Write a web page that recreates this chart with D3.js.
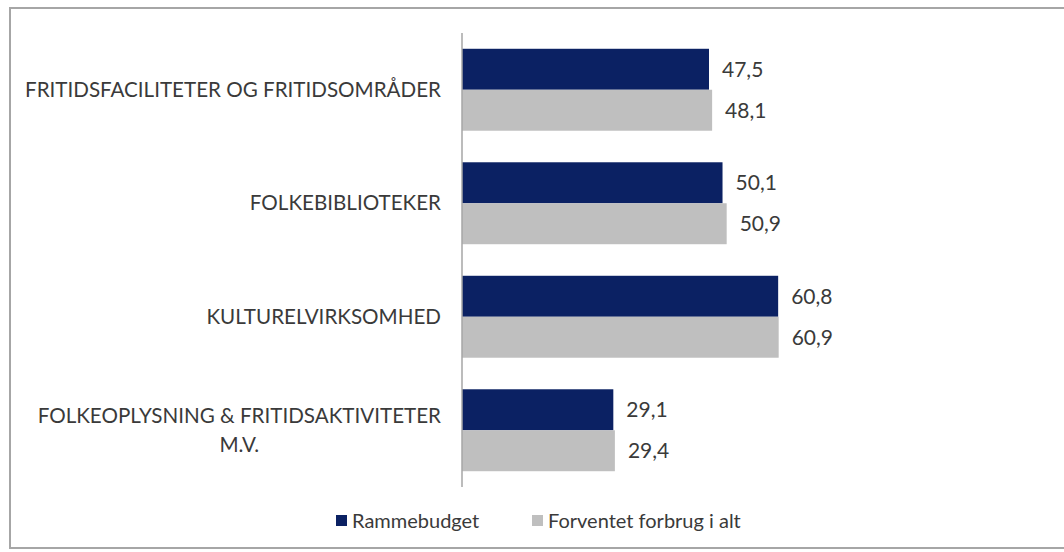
<!DOCTYPE html>
<html lang="da">
<head>
    <meta charset="UTF-8">
    <title>Rammebudget og forventet forbrug</title>
    <script src="https://d3js.org/d3.v7.min.js"></script>
    <style>
        body {
            margin: 0;
            background: #fff;
            font-family: Lato, "Open Sans", sans-serif;
        }
        svg text {
            fill: #3a3a3a;
        }
    </style>
</head>
<body>
    <div id="chart"></div>
    <script>
        const categories = [
            "FRITIDSFACILITETER OG FRITIDSOMRÅDER",
            "FOLKEBIBLIOTEKER",
            "KULTURELVIRKSOMHED",
            "FOLKEOPLYSNING & FRITIDSAKTIVITETER M.V."
        ];
        const seriesNames = ["Rammebudget", "Forventet forbrug i alt"];
        const rammebudget = [47.5, 50.1, 60.8, 29.1];
        const forbrug = [48.1, 50.9, 60.9, 29.4];
        const colors = ["#0b2163", "#bfbfbf"];

        const W = 1064, H = 552;
        const fmt = v => d3.format(".1f")(v).replace(".", ",");

        const svg = d3.select("#chart").append("svg")
            .attr("width", W)
            .attr("height", H);

        // frame around the chart
        svg.append("rect")
            .attr("x", 10).attr("y", 8)
            .attr("width", W + 20).attr("height", 540)
            .attr("fill", "none")
            .attr("stroke", "#a6a6a6")
            .attr("stroke-width", 2);

        const x = d3.scaleLinear().domain([0, 115]).range([462, 1060]);
        const y = d3.scaleBand().domain(categories).range([33, 487])
            .paddingInner(0.278).paddingOuter(0.139);
        const ySub = d3.scaleBand().domain([0, 1]).range([0, y.bandwidth()]);

        const rows = categories.map((c, i) => ({
            cat: c,
            values: [rammebudget[i], forbrug[i]]
        }));

        const groups = svg.selectAll(".grp").data(rows).enter()
            .append("g")
            .attr("transform", d => `translate(0,${y(d.cat)})`);

        groups.selectAll("rect").data(d => d.values).enter()
            .append("rect")
            .attr("x", x(0))
            .attr("y", (d, j) => ySub(j))
            .attr("width", d => x(d) - x(0))
            .attr("height", ySub.bandwidth())
            .attr("fill", (d, j) => colors[j]);

        groups.selectAll(".val").data(d => d.values).enter()
            .append("text")
            .attr("class", "val")
            .attr("x", d => x(d) + 13)
            .attr("y", (d, j) => ySub(j) + ySub.bandwidth() / 2)
            .attr("dy", "0.35em")
            .style("font-size", "21px")
            .text(fmt);

        // category axis line
        svg.append("line")
            .attr("x1", x(0)).attr("x2", x(0))
            .attr("y1", 33).attr("y2", 487)
            .attr("stroke", "#a6a6a6")
            .attr("stroke-width", 1.5);

        // category labels, wrapped and centred like Excel does
        const maxW = 430;
        categories.forEach(c => {
            const t = svg.append("text").style("font-size", "20.6px");
            const words = c.split(" ");
            const lines = [];
            let cur = "";
            words.forEach(w => {
                const test = cur ? cur + " " + w : w;
                t.text(test);
                if (t.node().getComputedTextLength() > maxW && cur) {
                    lines.push(cur);
                    cur = w;
                } else {
                    cur = test;
                }
            });
            lines.push(cur);
            let widest = 0;
            lines.forEach(l => {
                t.text(l);
                widest = Math.max(widest, t.node().getComputedTextLength());
            });
            t.text(null);
            const cx = 441 - widest / 2;
            const lh = 29;
            const cy = y(c) + y.bandwidth() / 2;
            t.attr("text-anchor", "middle");
            lines.forEach((l, k) => {
                t.append("tspan")
                    .attr("x", cx)
                    .attr("y", cy + (k - (lines.length - 1) / 2) * lh)
                    .attr("dy", "0.35em")
                    .text(l);
            });
        });

        // legend
        const legend = svg.append("g").attr("transform", "translate(336,521)");
        const legX = [0, 196];
        seriesNames.forEach((s, i) => {
            legend.append("rect")
                .attr("x", legX[i]).attr("y", -6)
                .attr("width", 11).attr("height", 11)
                .attr("fill", colors[i]);
            legend.append("text")
                .attr("x", legX[i] + 16)
                .attr("y", 0)
                .attr("dy", "0.35em")
                .style("font-size", "20px")
                .text(s);
        });
    </script>
</body>
</html>
